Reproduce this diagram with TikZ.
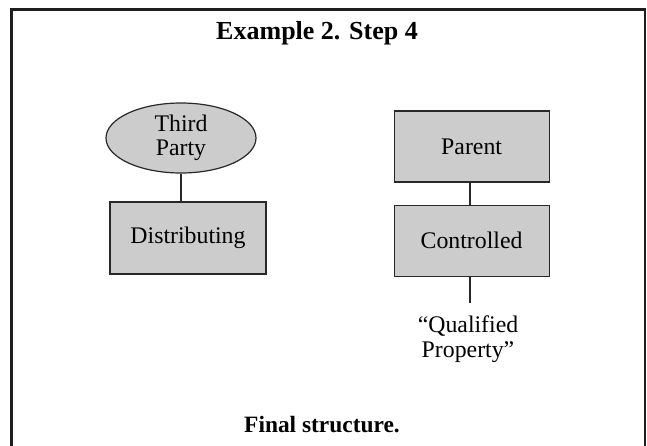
\documentclass[tikz,border=0pt]{standalone}
\usepackage{fontspec}
\setmainfont{Liberation Serif}
\usetikzlibrary{shapes.geometric}
\definecolor{shapefill}{RGB}{204,204,204}
\definecolor{outline}{RGB}{40,40,40}
\definecolor{framecol}{RGB}{30,30,30}
\begin{document}
\begin{tikzpicture}[x=1pt,y=-1pt,
  boxfill/.style={fill=shapefill, draw=outline, line width=1.2pt},
  entity/.style={boxfill, rectangle, inner sep=0pt, align=center,
    font=\fontsize{23.8}{24.5}\selectfont},
  party/.style={boxfill, ellipse, inner sep=0pt, align=center,
    font=\fontsize{23.8}{24.5}\selectfont},
  plain/.style={inner sep=0pt, align=center, font=\fontsize{23.8}{24.5}\selectfont},
  heading/.style={inner sep=0pt, font=\fontsize{26}{28}\selectfont\bfseries},
  caption/.style={inner sep=0pt, font=\fontsize{23.4}{25}\selectfont\bfseries},
  link/.style={draw=outline, line width=1.1pt}]
\useasboundingbox (0,0) rectangle (647,445);
\fill[white] (0,0) rectangle (647,445);
% frame, open at the lower edge
\draw[line width=2.6pt, framecol]
  (11.5,446) -- (11.5,9.3) -- (645,9.3) -- (645,446);

\node[heading, anchor=base] (title) at (317,39.5) {Example 2. Step 4};

% left structure
\node[party, minimum width=150pt, minimum height=70pt] (tp) at (181,138) {Third\\Party};
\node[entity, minimum width=156pt, minimum height=72pt] (dist) at (188,238) {Distributing};
\draw[link] (tp.south) -- (tp.south |- dist.north);

% right structure
\node[entity, minimum width=155pt, minimum height=71pt] (par) at (471.6,146.4) {Parent};
\node[entity, minimum width=155pt, minimum height=71pt] (ctl) at (471.6,240.8) {Controlled};
\coordinate (qtop) at (470,302.7);
\node[plain] (qp) at (468,339) {“Qualified\\Property”};
\draw[link] (qtop |- par.south) -- (qtop |- ctl.north);
\draw[link] (qtop |- ctl.south) -- (qtop);

\node[caption, anchor=base] (cap) at (322,432) {Final structure.};
\end{tikzpicture}
\end{document}
